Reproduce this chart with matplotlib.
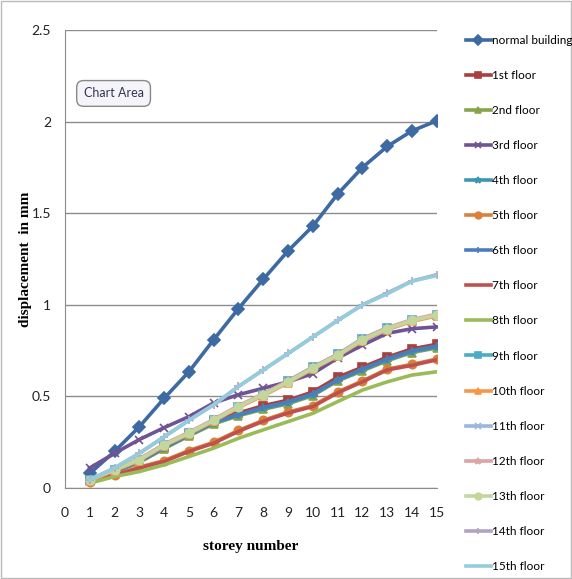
import matplotlib
matplotlib.use('Agg')
import matplotlib.pyplot as plt
from matplotlib.patches import Rectangle

# storey numbers and displacement (mm)
storeys = list(range(1, 16))
normal = [0.08, 0.2, 0.335, 0.49, 0.635, 0.81, 0.98, 1.14, 1.295, 1.43, 1.605, 1.75, 1.865, 1.95, 2.005]
floor1 = [0.045, 0.09, 0.15, 0.225, 0.295, 0.365, 0.41, 0.45, 0.48, 0.525, 0.605, 0.66, 0.715, 0.76, 0.785]
floor2 = [0.04, 0.085, 0.14, 0.215, 0.285, 0.35, 0.395, 0.43, 0.46, 0.505, 0.585, 0.64, 0.695, 0.74, 0.765]
floor3 = [0.11, 0.19, 0.265, 0.33, 0.39, 0.465, 0.51, 0.545, 0.58, 0.625, 0.71, 0.78, 0.845, 0.87, 0.88]
floor4 = [0.045, 0.09, 0.145, 0.22, 0.29, 0.355, 0.40, 0.435, 0.465, 0.51, 0.59, 0.645, 0.70, 0.745, 0.77]
floor5 = [0.035, 0.07, 0.115, 0.15, 0.205, 0.25, 0.315, 0.37, 0.415, 0.45, 0.525, 0.585, 0.65, 0.675, 0.705]
floor6 = [0.045, 0.09, 0.145, 0.22, 0.29, 0.36, 0.40, 0.44, 0.47, 0.515, 0.59, 0.65, 0.705, 0.75, 0.775]
floor7 = [0.035, 0.07, 0.11, 0.145, 0.2, 0.245, 0.31, 0.365, 0.41, 0.445, 0.52, 0.58, 0.645, 0.67, 0.70]
floor8 = [0.027, 0.063, 0.09, 0.127, 0.172, 0.218, 0.272, 0.318, 0.363, 0.408, 0.472, 0.535, 0.58, 0.617, 0.635]
floor9 = [0.045, 0.1, 0.155, 0.235, 0.3, 0.37, 0.445, 0.51, 0.585, 0.66, 0.73, 0.815, 0.875, 0.915, 0.945]
floor10 = [0.04, 0.095, 0.15, 0.23, 0.295, 0.365, 0.44, 0.505, 0.575, 0.65, 0.72, 0.805, 0.865, 0.91, 0.94]
floor11 = [0.045, 0.1, 0.155, 0.235, 0.3, 0.37, 0.445, 0.51, 0.58, 0.655, 0.725, 0.81, 0.87, 0.915, 0.945]
floor12 = [0.045, 0.1, 0.16, 0.24, 0.305, 0.375, 0.45, 0.515, 0.585, 0.66, 0.73, 0.815, 0.875, 0.92, 0.95]
floor13 = [0.045, 0.1, 0.155, 0.235, 0.3, 0.37, 0.445, 0.51, 0.58, 0.655, 0.725, 0.81, 0.87, 0.915, 0.945]
floor14 = [0.045, 0.11, 0.19, 0.28, 0.37, 0.455, 0.555, 0.645, 0.735, 0.825, 0.915, 1.0, 1.065, 1.13, 1.165]
floor15 = [0.045, 0.11, 0.19, 0.28, 0.37, 0.455, 0.555, 0.645, 0.735, 0.825, 0.915, 1.0, 1.06, 1.13, 1.16]

labels = ['normal building', '1st floor', '2nd floor', '3rd floor', '4th floor', '5th floor',
          '6th floor', '7th floor', '8th floor', '9th floor', '10th floor', '11th floor',
          '12th floor', '13th floor', '14th floor', '15th floor']
series = [normal, floor1, floor2, floor3, floor4, floor5, floor6, floor7, floor8,
          floor9, floor10, floor11, floor12, floor13, floor14, floor15]
colors = ['#3d6aa3', '#a9403d', '#86a54a', '#6e5494', '#3d96ad', '#d9813a', '#4a7ebb', '#c0504d',
          '#9bbb59', '#4bacc6', '#f79646', '#9db6dc', '#dca4a2', '#c3d69b', '#b3a2c7', '#93cddd']
markers = ['D', 's', '^', 'x', '*', 'o', '+', None, None, 's', '^', 'x', '*', 'o', '+', None]

narrow = 'Lato'
serif_bold = dict(fontfamily='Liberation Serif', fontweight='bold', fontsize=11)

fig = plt.figure(figsize=(5.72, 5.79), dpi=100)
ax = fig.add_axes([0.1136, 0.157, 0.650, 0.791])

for vals, lab, c, m in zip(series, labels, colors, markers):
    ax.plot(storeys, vals, color=c, lw=2.6, marker=m, markersize=6, markeredgewidth=1.2,
            label=lab)

ax.set_xlim(0, 15)
ax.set_ylim(0, 2.5)
ax.set_xticks(range(0, 16))
ax.set_yticks([0, 0.5, 1, 1.5, 2, 2.5])
ax.set_yticklabels(['0', '0.5', '1', '1.5', '2', '2.5'])
ax.yaxis.grid(True, color='#8c8c8c', lw=1)
ax.set_axisbelow(True)
for s in ['top', 'right']:
    ax.spines[s].set_visible(False)
for s in ['left', 'bottom']:
    ax.spines[s].set_color('#8c8c8c')
ax.tick_params(labelsize=10, length=0, colors='#222222')
ax.tick_params(axis='x', pad=13.5)
ax.tick_params(axis='y', pad=10)
for t in ax.get_xticklabels() + ax.get_yticklabels():
    t.set_fontfamily(narrow)

ax.set_xlabel('storey number', **serif_bold)
ax.set_ylabel('displacement  in mm', **serif_bold)
ax.xaxis.set_label_coords(0.5, -0.113)
ax.yaxis.set_label_coords(-0.088, 0.5)

# "Chart Area" tooltip seen in the screenshot
ax.text(0.05, 0.853, 'Chart Area', transform=ax.transAxes, fontsize=9, color='#333355',
        fontfamily=narrow,
        bbox=dict(boxstyle='round,pad=0.55', fc='#f4f4fa', ec='#888888', lw=1))

fig.legend(loc='upper left', bbox_to_anchor=(0.806, 0.948), frameon=False,
           prop={'family': narrow, 'size': 8.5},
           handlelength=2.1, handletextpad=0.1, labelspacing=2.04, borderaxespad=0,
           markerscale=0.8)

# thin border round the whole picture
fig.patches.append(Rectangle((0.002, 0.002), 0.996, 0.996, transform=fig.transFigure,
                             fill=False, ec='#bbbbbb', lw=1))

fig.savefig('out.png', dpi=100)
